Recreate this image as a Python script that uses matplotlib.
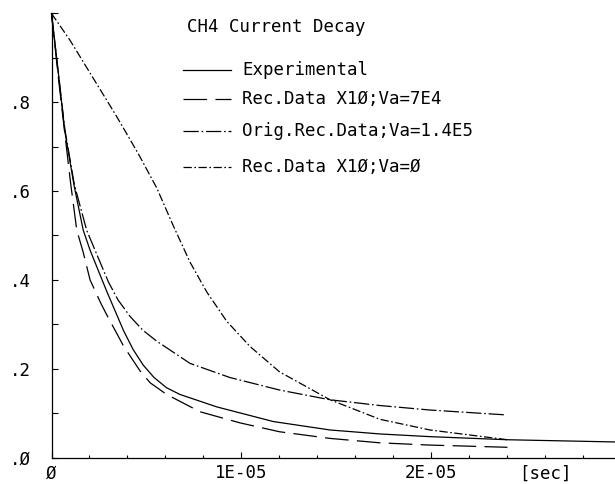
import numpy as np
import matplotlib
matplotlib.use("Agg")
import matplotlib.pyplot as plt

# valores (tempo em unidades de 1E-05 s)
t_exp = np.array([0, 0.035, 0.07, 0.12, 0.167, 0.203, 0.29, 0.38, 0.43, 0.483, 0.54,
                  0.606, 0.676, 0.87, 1.167, 1.466, 1.73, 1.99, 2.4, 2.966]) * 1e-5
i_exp = [1.0, 0.87, 0.735, 0.61, 0.512, 0.467, 0.375, 0.285, 0.243, 0.208, 0.18,
         0.157, 0.142, 0.114, 0.081, 0.062, 0.053, 0.047, 0.04, 0.035]

t_va7e4 = np.array([0, 0.035, 0.07, 0.10, 0.133, 0.167, 0.203, 0.26, 0.29, 0.378,
                    0.466, 0.52, 0.606, 0.782, 0.992, 1.2, 1.466, 1.73, 1.99, 2.4]) * 1e-5
i_va7e4 = [1.0, 0.86, 0.73, 0.62, 0.512, 0.462, 0.40, 0.347, 0.322, 0.252,
           0.195, 0.168, 0.142, 0.103, 0.078, 0.058, 0.043, 0.033, 0.028, 0.023]

t_orig = np.array([0, 0.035, 0.07, 0.12, 0.185, 0.229, 0.30, 0.35, 0.413, 0.48, 0.554,
                   0.729, 0.94, 1.2, 1.466, 1.73, 1.99, 2.39]) * 1e-5
i_orig = [1.0, 0.87, 0.74, 0.615, 0.512, 0.467, 0.395, 0.355, 0.318, 0.287, 0.262,
          0.212, 0.18, 0.152, 0.13, 0.117, 0.107, 0.096]

t_va0 = np.array([0, 0.097, 0.22, 0.343, 0.43, 0.466, 0.554, 0.641, 0.729, 0.817,
                  0.922, 1.045, 1.2, 1.466, 1.729, 1.992, 2.4]) * 1e-5
i_va0 = [1.0, 0.94, 0.854, 0.768, 0.704, 0.677, 0.607, 0.522, 0.44, 0.373,
         0.307, 0.25, 0.193, 0.13, 0.086, 0.062, 0.04]

legenda = ["Experimental", "Rec.Data X1Ø;Va=7E4", "Orig.Rec.Data;Va=1.4E5", "Rec.Data X1Ø;Va=Ø"]
titulo = "CH4 Current Decay"
xticks_pos = [0, 1e-5, 2e-5]
xticks_lab = ["Ø", "1E-05", "2E-05"]
yticks_pos = [0, 0.2, 0.4, 0.6, 0.8]
yticks_lab = [".Ø", ".2", ".4", ".6", ".8"]

plt.rcParams['font.family'] = ['DejaVu Sans Mono', 'DejaVu Sans']
plt.rcParams['lines.scale_dashes'] = False
FS = 12.5

fig = plt.figure(figsize=(6.15, 4.84), dpi=100)
ax = fig.add_axes([51.5 / 615, 26.5 / 484, 563.5 / 615, 444 / 484])

estilos = [
    dict(linestyle='-'),
    dict(linestyle=(0, (17, 6))),
    dict(linestyle=(0, (11, 2, 1.2, 2))),
    dict(linestyle=(0, (6, 1.8, 1.2, 1.8))),
]
series = [(t_exp, i_exp), (t_va7e4, i_va7e4), (t_orig, i_orig), (t_va0, i_va0)]

for (t, i), est in zip(series, estilos):
    ax.plot(t, i, color='black', lw=0.9, clip_on=False, **est)

ax.set_xlim(0, 2.966e-5)
ax.set_ylim(0, 1.0)

for s in ['top', 'right']:
    ax.spines[s].set_visible(False)
for s in ['left', 'bottom']:
    ax.spines[s].set_linewidth(0.9)

ax.set_xticks(xticks_pos)
ax.set_xticklabels(xticks_lab, fontsize=FS)
ax.set_xticks(np.arange(0, 2.95e-5, 0.2e-5), minor=True)
ax.set_yticks(yticks_pos)
ax.set_yticklabels(yticks_lab, fontsize=FS)
ax.set_yticks([0.1, 0.3, 0.5, 0.7, 0.9, 1.0], minor=True)

ax.tick_params(axis='x', which='major', direction='in', length=4.5, width=0.8, pad=5)
ax.tick_params(axis='x', which='minor', direction='in', length=2.5, width=0.8)
ax.tick_params(axis='y', which='both', direction='in', length=4.3, width=0.8, pad=15)

ax.text(2.6e-5, -0.037, "[sec]", transform=ax.get_xaxis_transform(),
        ha='center', va='center', fontsize=FS)

# titulo e legenda desenhados a mao dentro do grafico
ax.text(0.2405, 0.970, titulo, transform=ax.transAxes, ha='left', va='center', fontsize=FS)
linhas_y = [0.873, 0.807, 0.735, 0.654]
for nome, est, y in zip(legenda, estilos, linhas_y):
    ax.plot([0.233, 0.3186], [y, y], transform=ax.transAxes, color='black', lw=0.9, **est)
    ax.text(0.338, y, nome, transform=ax.transAxes, ha='left', va='center', fontsize=FS)

fig.savefig("out.png", dpi=100)
